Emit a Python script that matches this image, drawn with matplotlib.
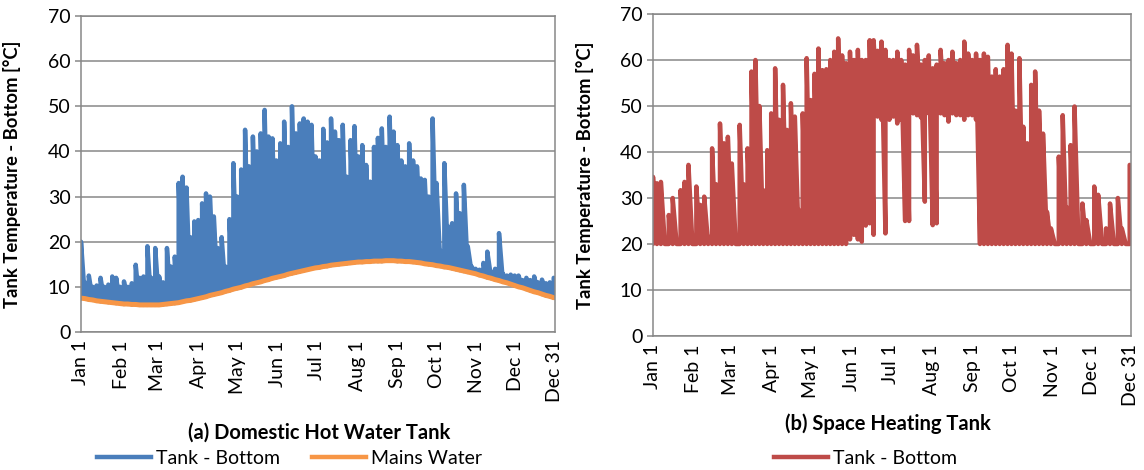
import numpy as np
import matplotlib
matplotlib.use("Agg")
import matplotlib.pyplot as plt
from matplotlib.lines import Line2D

plt.rcParams['font.family'] = ['Lato', 'DejaVu Sans']

# Sample days (every 3 days from Jan 1)
days = np.arange(0, 364, 3)

month_ticks = [0, 31, 59, 90, 120, 151, 181, 212, 243, 273, 304, 334, 364]
month_labels = ["Jan 1", "Feb 1", "Mar 1", "Apr 1", "May 1", "Jun 1", "Jul 1",
                "Aug 1", "Sep 1", "Oct 1", "Nov 1", "Dec 1", "Dec 31"]

# Mains water temperature [°C]
mains_water = [
    7.5, 7.4, 7.2, 7.1, 6.9, 6.8, 6.7, 6.6, 6.5, 6.4,
    6.3, 6.2, 6.2, 6.1, 6.1, 6.0, 6.0, 6.0, 6.0, 6.0,
    6.0, 6.1, 6.2, 6.3, 6.4, 6.5, 6.7, 6.9, 7.0, 7.2,
    7.4, 7.6, 7.8, 8.1, 8.3, 8.5, 8.7, 9.0, 9.2, 9.5,
    9.7, 9.9, 10.2, 10.4, 10.7, 10.9, 11.1, 11.4, 11.6, 11.9,
    12.1, 12.3, 12.5, 12.8, 13.0, 13.2, 13.4, 13.6, 13.8, 14.0,
    14.2, 14.3, 14.5, 14.6, 14.8, 14.9, 15.0, 15.1, 15.2, 15.3,
    15.4, 15.5, 15.5, 15.6, 15.6, 15.7, 15.7, 15.7, 15.8, 15.8,
    15.8, 15.7, 15.7, 15.6, 15.6, 15.5, 15.4, 15.3, 15.1, 15.0,
    14.9, 14.7, 14.6, 14.4, 14.3, 14.1, 13.9, 13.7, 13.5, 13.3,
    13.1, 12.9, 12.6, 12.4, 12.1, 11.9, 11.6, 11.4, 11.1, 10.9,
    10.6, 10.3, 10.0, 9.8, 9.5, 9.2, 8.9, 8.7, 8.4, 8.1,
    7.9, 7.6,
]

# Domestic hot water tank, bottom node: peak temperature per sample [°C]
dhw_tank_peak = [
    20, 11, 12.5, 10, 10.3, 12, 10, 10.5, 12.3, 12,
    10, 11.2, 10, 10.8, 14.9, 12, 12.3, 19, 12, 18.6,
    12.3, 11, 18.6, 14.5, 16.7, 33, 34.4, 32, 21, 24.5,
    24.8, 28.5, 30.7, 30, 25.6, 18.6, 21, 14.5, 25, 37.4,
    30, 36, 44.8, 36.7, 43.3, 40, 44, 49.2, 43.3, 42.9,
    38, 41.8, 46.6, 41, 50, 44, 46.2, 47.3, 46.6, 45.9,
    38.9, 38, 45, 42, 47.3, 44.4, 42.5, 45.9, 34.4, 42.5,
    45.6, 38.9, 41.4, 37, 33.3, 41, 43, 45.1, 41, 47.7,
    44.4, 41.4, 38, 36.7, 41.8, 38, 36.7, 34, 33.7, 30,
    47.3, 33, 18, 37.4, 23.4, 24.1, 30.7, 26.3, 32.6, 19,
    14.5, 14, 13.8, 15.3, 17.8, 13.4, 14, 21.9, 12.9, 12.5,
    12.7, 12.5, 12.5, 11.5, 12, 11.5, 12.3, 11, 11.6, 10.8,
    11, 12,
]

# Space heating tank, bottom node: peak and minimum temperature per sample [°C]
sh_tank_peak = [
    34.6, 33.2, 33.5, 20, 26.3, 30, 20, 31.7, 33.5, 37.2,
    20, 32.5, 28.5, 30.3, 21.6, 40.8, 33, 46.2, 41.9, 43.3,
    37.5, 20, 45.9, 33, 40.8, 57.5, 60, 50, 31.7, 40.4,
    48.4, 58.2, 47, 54.6, 44.8, 50.6, 47.7, 27.4, 48.4, 60.4,
    51.3, 57, 62.5, 57.8, 58, 60, 61.8, 64.7, 61, 59.3,
    61.8, 60, 62.2, 60, 60, 64.3, 64.3, 62, 64, 62.2,
    60, 60, 61.8, 60, 59, 62.2, 61, 63.3, 59, 60,
    61, 58.2, 59, 62.2, 59.3, 60, 61.8, 59.3, 60, 64,
    61.4, 60, 61.4, 60, 61.4, 60.7, 56.4, 58, 56.4, 58,
    63.3, 61.4, 49, 60.4, 45.5, 41.9, 54.6, 57.5, 49, 44,
    27, 23.4, 20, 39, 48, 28, 41.5, 49.9, 20, 28.8,
    25.2, 20, 32.5, 30.7, 20, 23.4, 28.8, 20, 30, 23.4,
    20, 37.2,
]

sh_tank_low = [
    20, 20, 20, 20, 20, 20, 20, 20, 20, 20,
    20, 20, 20, 20, 20, 20, 20, 20, 20, 20,
    20, 20, 20, 20, 20, 20, 20, 20, 20, 20,
    20, 20, 20, 20, 20, 20, 20, 20, 20, 20,
    20, 20, 20, 20, 20, 20, 20, 20, 20, 20,
    21, 22, 21, 20.5, 24, 24.5, 22, 47.7, 47, 22.3,
    47, 47.7, 46.2, 47, 25, 25, 48.4, 48, 47.5, 29.2,
    48.4, 24.1, 24.5, 48.4, 48, 46.6, 48.4, 48, 48, 47,
    48, 48, 47, 20, 20, 20, 20, 20, 20, 20,
    20, 20, 20, 20, 20, 20, 20, 20, 20, 20,
    20, 20, 20, 20, 20, 20, 20, 20, 20, 20,
    20, 20, 20, 20, 20, 20, 20, 20, 20, 20,
    20, 20,
]

BLUE = "#4A7EBB"
ORANGE = "#F79646"
RED = "#BE4B48"
GRID = "#878787"


def swing(x, low, high):
    """Path that alternates between the minimum and the peak of each sample."""
    xs = np.repeat(np.asarray(x, float), 2)
    ys = np.column_stack([np.asarray(low, float), np.asarray(high, float)]).ravel()
    return xs, ys


def style_axes(ax, label_x):
    ax.set_xlim(0, 364)
    ax.set_ylim(0, 70)
    ax.set_yticks(range(0, 71, 10))
    ax.set_xticks(month_ticks)
    ax.set_xticklabels(month_labels, rotation=90, ha="center", va="top")
    ax.grid(axis="y", color=GRID, linewidth=1.1)
    ax.set_axisbelow(True)
    for s in ax.spines.values():
        s.set_color(GRID)
        s.set_linewidth(1.1)
    ax.tick_params(axis="y", length=4.5, width=1.1, color=GRID, labelsize=14, pad=3)
    ax.tick_params(axis="x", length=0, labelsize=14, pad=6)
    ax.set_ylabel("Tank Temperature - Bottom [°C]", fontsize=13.3, fontweight="bold")
    ax.yaxis.set_label_coords(label_x, 0.5)


fig = plt.figure(figsize=(11.44, 4.70), dpi=100)

ax1 = fig.add_axes([81 / 1144, 1 - 332 / 470, 474 / 1144, 316 / 470])
ax2 = fig.add_axes([653 / 1144, 1 - 336 / 470, 478 / 1144, 322 / 470])

line_kw = dict(solid_joinstyle="round", solid_capstyle="round")

xs, ys = swing(days, mains_water, dhw_tank_peak)
ax1.plot(xs, ys, color=BLUE, linewidth=3.2, **line_kw)
ax1.plot(days, mains_water, color=ORANGE, linewidth=3.6, **line_kw)
style_axes(ax1, (21 - 81) / 474)

xs, ys = swing(days, sh_tank_low, sh_tank_peak)
ax2.plot(xs, ys, color=RED, linewidth=3.2, **line_kw)
style_axes(ax2, (594 - 653) / 478)

fig.text(319 / 1144, 1 - 433 / 470, "(a) Domestic Hot Water Tank",
         ha="center", va="center", fontsize=14.5, fontweight="bold")
fig.text(888 / 1144, 1 - 424 / 470, "(b) Space Heating Tank",
         ha="center", va="center", fontsize=14.5, fontweight="bold")

h_blue = Line2D([], [], color=BLUE, linewidth=3.2)
h_orange = Line2D([], [], color=ORANGE, linewidth=3.2)
h_red = Line2D([], [], color=RED, linewidth=3.2)

leg_kw = dict(loc="center", frameon=False, fontsize=14, handlelength=2.78,
              handletextpad=0.3, borderpad=0, borderaxespad=0)
fig.legend([h_blue, h_orange], ["Tank - Bottom", "Mains Water"],
           bbox_to_anchor=(289.5 / 1144, 1 - 458 / 470), ncol=2,
           columnspacing=1.6, **leg_kw)
fig.legend([h_red], ["Tank - Bottom"],
           bbox_to_anchor=(865.5 / 1144, 1 - 458 / 470), ncol=1, **leg_kw)

fig.savefig("out.png", dpi=100)
